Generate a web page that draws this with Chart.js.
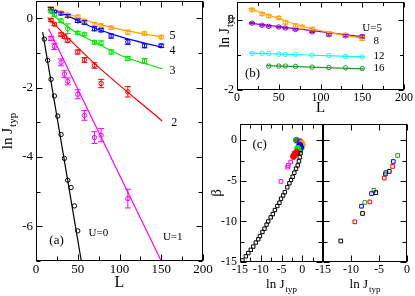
<!DOCTYPE html>
<html>
<head>
<meta charset="utf-8">
<script src="https://cdn.jsdelivr.net/npm/chart.js@4.4.1/dist/chart.umd.min.js"></script>
<style>
  body { margin: 0; background: #fff; width: 415px; height: 296px; overflow: hidden; position: relative; }
  canvas { position: absolute; }
</style>
</head>
<body>
<canvas id="ca" width="214" height="296" style="left:0;top:0"></canvas>
<canvas id="cb" width="205" height="118" style="left:210px;top:0"></canvas>
<canvas id="cc1" width="125" height="178" style="left:205px;top:118px"></canvas>
<canvas id="cc2" width="99" height="178" style="left:313px;top:118px"></canvas>
<script>
// ---- panel (a): ln J_typ vs L ----
const L_U0 = [10, 14, 18, 22, 26, 30, 34, 38, 42, 46, 50];
const J_U0 = [-0.6, -1.21, -1.76, -2.24, -2.82, -3.35, -4.04, -4.67, -4.88, -5.41, -6.13];

const L_U1 = [18, 22, 30, 34, 38, 50, 58, 70, 78, 110];
const J_U1 = [-0.58, -0.81, -1.27, -1.61, -1.82, -2.19, -2.8, -3.44, -3.37, -5.2];
const E_U1 = [0.06, 0.09, 0.1, 0.1, 0.1, 0.13, 0.14, 0.17, 0.19, 0.27];

const L_U2 = [18, 22, 30, 34, 38, 50, 58, 70, 78, 110];
const J_U2 = [-0.05, -0.17, -0.47, -0.53, -0.64, -0.97, -1.2, -1.36, -1.88, -2.12];
const E_U2 = [0.04, 0.04, 0.05, 0.05, 0.05, 0.06, 0.07, 0.08, 0.12, 0.15];

const L_U3 = [18, 22, 30, 38, 50, 58, 70, 78, 90, 110, 130];
const J_U3 = [0.2, 0.1, -0.07, -0.3, -0.42, -0.46, -0.69, -0.71, -0.97, -1.16, -1.23];
const E_U3 = [0.04, 0.04, 0.05, 0.14, 0.04, 0.04, 0.05, 0.06, 0.06, 0.06, 0.07];

const L_U4 = [18, 22, 30, 38, 50, 58, 70, 78, 90, 110, 130, 150];
const J_U4 = [0.28, 0.2, 0.14, 0.07, -0.07, -0.12, -0.3, -0.34, -0.51, -0.68, -0.79, -0.79];
const E_U4 = [0.03, 0.03, 0.04, 0.04, 0.05, 0.05, 0.06, 0.05, 0.06, 0.07, 0.06, 0.05];

const L_U5 = [18, 30, 38, 50, 58, 70, 78, 90, 110, 130, 150];
const J_U5 = [0.28, 0.16, 0.1, 0.05, -0.08, -0.17, -0.21, -0.27, -0.4, -0.44, -0.54];
const E_U5 = [0.04, 0.04, 0.04, 0.04, 0.05, 0.05, 0.05, 0.05, 0.06, 0.05, 0.05];

// fitted curves
const fitL_U0 = [8, 56], fitJ_U0 = [-0.4, -7.25];
const fitL_U1 = [15, 150], fitJ_U1 = [-0.3, -7.0];
const fitL_U2 = [14, 70, 151], fitJ_U2 = [0.02, -1.3, -2.96];
const fitL_U3 = [14, 28, 50, 70, 93, 111, 131, 151];
const fitJ_U3 = [0.25, -0.06, -0.44, -0.68, -0.97, -1.16, -1.31, -1.45];
const fitL_U4 = [14, 50, 70, 93, 111, 131, 151];
const fitJ_U4 = [0.33, -0.06, -0.28, -0.47, -0.6, -0.72, -0.83];
const fitL_U5 = [14, 50, 78, 111, 151];
const fitJ_U5 = [0.32, 0.03, -0.19, -0.37, -0.54];

// ---- panel (b): large U ----
const L_U8 = [18, 30, 38, 50, 58, 70, 90, 110, 130, 150];
const J_U8 = [-0.1, -0.16, -0.19, -0.21, -0.24, -0.28, -0.35, -0.43, -0.46, -0.48];
const E_U8 = [0.02, 0.02, 0.02, 0.02, 0.02, 0.02, 0.02, 0.03, 0.03, 0.04];
const L_U12 = [18, 30, 38, 50, 58, 70, 90, 110, 130, 150];
const J_U12 = [-0.96, -0.96, -0.96, -0.98, -0.99, -0.99, -1.01, -1.02, -1.05, -1.06];
const L_U16 = [38, 50, 58, 70, 90, 110, 130, 150];
const J_U16 = [-1.32, -1.32, -1.32, -1.33, -1.35, -1.36, -1.37, -1.39];
const fitL_U8 = [15, 152], fitJ_U8 = [-0.1, -0.49];
const fitL_U12 = [15, 152], fitJ_U12 = [-0.95, -1.06];
const fitL_U16 = [35, 152], fitJ_U16 = [-1.31, -1.4];

// ---- panel (c), left: beta vs ln J_typ ----
const cU0X = [-14.4, -13.6, -13.0, -12.4, -11.8, -11.2, -10.6, -10.2, -9.6, -9.1, -8.6, -8.2, -7.6, -7.1, -6.6,
              -6.0, -5.5, -5.1, -4.6, -4.2, -3.6, -3.1, -2.7, -2.3, -1.9, -1.5, -1.1, -0.8, -0.6, -0.4];
const cU0Y = [-14.8, -14.3, -13.9, -13.5, -13.1, -12.6, -12.2, -11.8, -11.3, -10.9, -10.4, -10.0, -9.5, -9.1, -8.6,
              -8.1, -7.7, -7.2, -6.8, -6.4, -5.8, -5.3, -4.9, -4.5, -4.0, -3.5, -3.1, -2.6, -2.1, -1.6];
const cU1X = [-2.8, -3.37, -3.52, -5.13], cU1Y = [-2.7, -3.11, -3.32, -5.07];
const cU2X = [-1.35, -1.76, -2.1], cU2Y = [-1.48, -1.68, -2.0];
const cU3X = [-1.1, -0.9], cU3Y = [-1.0, -1.3];
const cU4X = [-0.6, -0.4, -0.7], cU4Y = [-0.6, -0.9, -1.2];
const cU5X = [-0.1, 0.0, -0.2], cU5Y = [-0.35, -0.6, -0.9];
const cU8X = [-0.5, -0.3], cU8Y = [-0.2, -0.35];
const cU16X = [-1.4], cU16Y = [0.0];

// ---- panel (c), right ----
const cRgX = [-1.67, -3.76, -5.91, -7.53], cRgY = [-1.88, -3.95, -6.17, -7.67];
const cRbX = [-2.45, -3.85, -6.33, -8.12], cRbY = [-2.62, -4.15, -6.57, -8.13];
const cRrX = [-2.57, -4.06, -6.63, -9.32], cRrY = [-3.23, -4.66, -7.6, -10.05];
const cRkX = [-3.17, -5.56, -7.94, -11.83], cRkY = [-3.84, -6.45, -9.02, -12.41];

const MAG = '#ff00ff', RED = '#ff0000', GRN = '#00e600', BLU = '#0000ff', ORA = '#ffa500',
      VIO = '#9400d3', CYA = '#00ffff', DGR = '#1f9a1f', GR2 = '#22a022';
const FAM = '"Liberation Serif", "Times New Roman", serif';

Chart.defaults.font.family = FAM;
Chart.defaults.color = '#000';

const pts = (xs, ys) => xs.map((x, i) => ({x: x, y: ys[i]}));

function markers(xs, ys, color, errs, st) {
  st = st || {};
  return {
    data: pts(xs, ys), showLine: false,
    borderColor: color, backgroundColor: st.fill ? color : 'rgba(0,0,0,0)',
    pointStyle: st.shape || 'circle', pointRadius: st.r || 2.2, pointBorderWidth: 1,
    errorBars: errs
  };
}
function fitLine(xs, ys, color) {
  return {
    data: pts(xs, ys), showLine: true, borderColor: color, borderWidth: 1.2,
    pointRadius: 0, tension: 0.4, cubicInterpolationMode: 'monotone', fill: false
  };
}

function xAxis(min, max, step, show, size, height, title) {
  return {
    type: 'linear', position: 'bottom', min: min, max: max,
    grid: { display: false, drawTicks: false }, border: { display: false },
    ticks: { stepSize: step, autoSkip: false, maxRotation: 0, padding: 1, font: { size: size },
             callback: v => show(v) ? String(v) : '' },
    title: title || { display: false },
    afterFit: s => { s.height = height; s.paddingLeft = 0; s.paddingRight = 0; }
  };
}
function yAxis(min, max, step, show, size, width, title) {
  return {
    type: 'linear', position: 'left', min: min, max: max,
    grid: { display: false, drawTicks: false }, border: { display: false },
    ticks: { stepSize: step, autoSkip: false, padding: 3, font: { size: size },
             callback: v => show(v) ? String(v) : '' },
    title: title || { display: false },
    afterFit: s => { s.width = width; s.paddingTop = 0; s.paddingBottom = 0; }
  };
}
const isMult = (v, m) => Math.abs(v / m - Math.round(v / m)) < 1e-6;

// frame with inward ticks on all four sides
const frameTicks = {
  id: 'frameTicks',
  afterDatasetsDraw(chart, args, o) {
    const {ctx, chartArea: a} = chart;
    ctx.save();
    ctx.strokeStyle = '#000';
    ctx.lineWidth = 1;
    const L = Math.round(a.left) + 0.5, R = Math.round(a.right) - 0.5;
    const T = Math.round(a.top) + 0.5, B = Math.round(a.bottom) - 0.5;
    ctx.strokeRect(L, T, R - L, B - T);
    ctx.beginPath();
    ['x', 'y'].forEach(id => {
      const sc = chart.scales[id], t = o[id];
      if (!t) return;
      const k0 = Math.ceil(sc.min / t.minor - 1e-9), k1 = Math.floor(sc.max / t.minor + 1e-9);
      for (let k = k0; k <= k1; k++) {
        const v = k * t.minor;
        const len = isMult(v, t.major) ? o.majorLen : o.minorLen;
        const p = Math.round(sc.getPixelForValue(v)) + 0.5;
        if (id === 'x') {
          ctx.moveTo(p, B); ctx.lineTo(p, B - len);
          ctx.moveTo(p, T); ctx.lineTo(p, T + len);
        } else {
          ctx.moveTo(L, p); ctx.lineTo(L + len, p);
          ctx.moveTo(R, p); ctx.lineTo(R - len, p);
        }
      }
    });
    ctx.stroke();
    ctx.restore();
  }
};

const errorBars = {
  id: 'errorBars',
  afterDatasetsDraw(chart) {
    const {ctx} = chart, ys = chart.scales.y;
    chart.data.datasets.forEach((ds, i) => {
      if (!ds.errorBars) return;
      const meta = chart.getDatasetMeta(i);
      ctx.save();
      ctx.strokeStyle = ds.borderColor;
      ctx.lineWidth = 1;
      ctx.beginPath();
      meta.data.forEach((pt, j) => {
        const v = ds.data[j].y, e = ds.errorBars[j];
        const y1 = ys.getPixelForValue(v + e), y2 = ys.getPixelForValue(v - e), x = pt.x;
        ctx.moveTo(x, y1); ctx.lineTo(x, y2);
        ctx.moveTo(x - 3, y1); ctx.lineTo(x + 3, y1);
        ctx.moveTo(x - 3, y2); ctx.lineTo(x + 3, y2);
      });
      ctx.stroke();
      ctx.restore();
    });
  }
};

function drawLabel(ctx, it, cx, cy) {
  ctx.save();
  ctx.translate(cx, cy);
  if (it.rotate) ctx.rotate(-Math.PI / 2);
  ctx.fillStyle = '#000';
  ctx.textBaseline = 'alphabetic';
  ctx.font = it.size + 'px ' + FAM;
  const w1 = ctx.measureText(it.text).width;
  const sz2 = Math.round(it.size * 0.72);
  let w2 = 0;
  if (it.sub) { ctx.font = sz2 + 'px ' + FAM; w2 = ctx.measureText(it.sub).width + 1; }
  const x0 = it.align === 'left' ? 0 : -(w1 + w2) / 2;
  const base = it.size * 0.33;
  ctx.font = it.size + 'px ' + FAM;
  ctx.fillText(it.text, x0, base);
  if (it.sub) {
    ctx.font = sz2 + 'px ' + FAM;
    ctx.fillText(it.sub, x0 + w1 + 1, base + it.size * 0.3);
  }
  ctx.restore();
}

const textMarks = {
  id: 'textMarks',
  afterDraw(chart, args, o) {
    const {ctx, chartArea: a, scales} = chart;
    (o.items || []).forEach(it => {
      let cx, cy;
      if (it.at === 'data') {
        cx = scales.x.getPixelForValue(it.x); cy = scales.y.getPixelForValue(it.y);
      } else if (it.at === 'left') {
        cx = a.left + it.off; cy = (a.top + a.bottom) / 2 + (it.dy || 0);
      } else {
        cx = (a.left + a.right) / 2 + (it.dx || 0); cy = a.bottom + it.off;
      }
      drawLabel(ctx, it, cx, cy);
    });
  }
};

function baseOptions(pad, scales, frame, items) {
  return {
    responsive: false, animation: false, devicePixelRatio: 1, events: [],
    layout: { padding: pad, autoPadding: false },
    scales: scales,
    plugins: { legend: { display: false }, tooltip: { enabled: false },
               frameTicks: frame, textMarks: { items: items } }
  };
}
const plugins = [errorBars, frameTicks, textMarks];

// ---- panel (a) ----
new Chart(document.getElementById('ca'), {
  type: 'scatter',
  data: { datasets: [
    fitLine(fitL_U5, fitJ_U5, ORA), markers(L_U5, J_U5, ORA, E_U5),
    fitLine(fitL_U4, fitJ_U4, BLU), markers(L_U4, J_U4, BLU, E_U4),
    fitLine(fitL_U3, fitJ_U3, GRN), markers(L_U3, J_U3, GRN, E_U3),
    fitLine(fitL_U2, fitJ_U2, RED), markers(L_U2, J_U2, RED, E_U2),
    fitLine(fitL_U1, fitJ_U1, MAG), markers(L_U1, J_U1, MAG, E_U1),
    fitLine(fitL_U0, fitJ_U0, '#000'), markers(L_U0, J_U0, '#000')
  ]},
  options: baseOptions({ left: 0, right: 11, top: 1, bottom: 0 }, {
    x: xAxis(0, 200, 50, v => true, 13, 35,
             { display: true, text: 'L', font: { size: 16 }, padding: { top: 0, bottom: 4 } }),
    y: yAxis(-7, 0.5, 1, v => Number.isInteger(v) && v % 2 === 0, 13, 36)
  }, { x: { major: 50, minor: 25 }, y: { major: 2, minor: 1 }, majorLen: 6, minorLen: 4 }, [
    { text: 'ln J', sub: 'typ', size: 15, rotate: true, at: 'left', off: -29, dy: 0 },
    { text: '5', size: 12, align: 'left', at: 'data', x: 160, y: -0.47 },
    { text: '4', size: 12, align: 'left', at: 'data', x: 160, y: -0.92 },
    { text: '3', size: 12, align: 'left', at: 'data', x: 160, y: -1.5 },
    { text: '2', size: 12, align: 'left', at: 'data', x: 162, y: -3.0 },
    { text: 'U=0', size: 11, align: 'left', at: 'data', x: 63, y: -6.18 },
    { text: 'U=1', size: 11, align: 'left', at: 'data', x: 152, y: -6.28 },
    { text: '(a)', size: 13, align: 'left', at: 'data', x: 16, y: -6.4 }
  ]),
  plugins: plugins
});

// ---- panel (b) ----
new Chart(document.getElementById('cb'), {
  type: 'scatter',
  data: { datasets: [
    fitLine(fitL_U5, fitJ_U5, ORA), markers(L_U5, J_U5, ORA, E_U5),
    fitLine(fitL_U8, fitJ_U8, VIO), markers(L_U8, J_U8, VIO, E_U8),
    fitLine(fitL_U12, fitJ_U12, CYA), markers(L_U12, J_U12, CYA),
    fitLine(fitL_U16, fitJ_U16, DGR), markers(L_U16, J_U16, DGR)
  ]},
  options: baseOptions({ left: 0, right: 11, top: 2, bottom: 0 }, {
    x: xAxis(0, 200, 50, v => true, 12, 28,
             { display: true, text: 'L', font: { size: 15 }, padding: { top: 0, bottom: 1 } }),
    y: yAxis(-2, 0.5, 1, v => Number.isInteger(v) && v % 2 === 0, 12, 27)
  }, { x: { major: 50, minor: 25 }, y: { major: 2, minor: 1 }, majorLen: 5, minorLen: 3.5 }, [
    { text: 'ln J', sub: 'typ', size: 14, rotate: true, at: 'left', off: -13, dy: -15 },
    { text: 'U=5', size: 11, align: 'left', at: 'data', x: 150, y: -0.21 },
    { text: '8', size: 11, align: 'left', at: 'data', x: 163.5, y: -0.59 },
    { text: '12', size: 11, align: 'left', at: 'data', x: 163.5, y: -1.02 },
    { text: '16', size: 11, align: 'left', at: 'data', x: 163.5, y: -1.37 },
    { text: '(b)', size: 13, align: 'left', at: 'data', x: 9.5, y: -1.5 }
  ]),
  plugins: plugins
});

// ---- panel (c), left ----
new Chart(document.getElementById('cc1'), {
  type: 'scatter',
  data: { datasets: [
    markers(cU0X, cU0Y, '#000', null, { shape: 'rect', r: 2.4 }),
    markers(cU1X, cU1Y, MAG, null, { shape: 'rect', r: 2.6 }),
    markers(cU2X, cU2Y, RED, null, { fill: true, r: 3 }),
    markers(cU3X, cU3Y, GRN, null, { fill: true, r: 3 }),
    markers(cU4X, cU4Y, BLU, null, { fill: true, r: 3 }),
    markers(cU5X, cU5Y, ORA, null, { fill: true, r: 3 }),
    markers(cU8X, cU8Y, VIO, null, { fill: true, r: 3 }),
    markers(cU16X, cU16Y, DGR, null, { fill: true, r: 3 })
  ]},
  options: baseOptions({ left: 0, right: 7, top: 6, bottom: 0 }, {
    x: xAxis(-15, 5, 5, v => isMult(v, 5) && v <= 0, 12, 34),
    y: yAxis(-15, 2, 5, v => isMult(v, 5), 12, 35,
             { display: true, text: 'β', font: { size: 15 }, padding: { top: 3, bottom: 0 } })
  }, { x: { major: 5, minor: 2.5 }, y: { major: 5, minor: 2.5 }, majorLen: 6, minorLen: 4 }, [
    { text: 'ln J', sub: 'typ', size: 13, at: 'bottom', off: 22, dx: 0 },
    { text: '(c)', size: 13, align: 'left', at: 'data', x: -12, y: -0.45 }
  ]),
  plugins: plugins
});

// ---- panel (c), right ----
const yHidden = yAxis(-15, 2, 5, v => false, 12, 0);
yHidden.display = false;
new Chart(document.getElementById('cc2'), {
  type: 'scatter',
  data: { datasets: [
    markers(cRkX, cRkY, '#000', null, { shape: 'rect', r: 2.6 }),
    markers(cRrX, cRrY, RED, null, { shape: 'rect', r: 2.6 }),
    markers(cRbX, cRbY, BLU, null, { shape: 'rect', r: 2.6 }),
    markers(cRgX, cRgY, GR2, null, { shape: 'rect', r: 2.6 })
  ]},
  options: baseOptions({ left: 10, right: 5, top: 6, bottom: 0 }, {
    x: xAxis(-15, 0, 5, v => true, 12, 34),
    y: yHidden
  }, { x: { major: 5, minor: 5 }, y: { major: 5, minor: 2.5 }, majorLen: 6, minorLen: 4 }, [
    { text: 'ln J', sub: 'typ', size: 13, at: 'bottom', off: 22, dx: 0 }
  ]),
  plugins: plugins
});
</script>
</body>
</html>
